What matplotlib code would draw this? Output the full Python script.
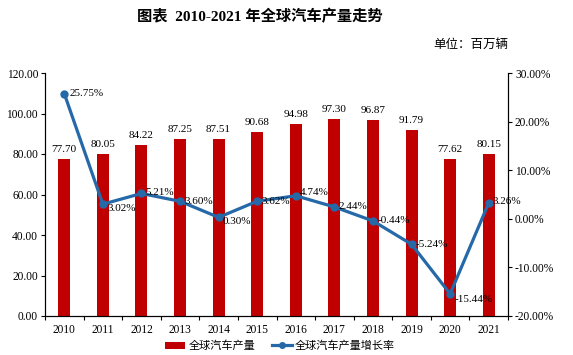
import matplotlib
matplotlib.use('Agg')
import matplotlib.pyplot as plt
import numpy as np
from matplotlib.ticker import FixedLocator

plt.rcParams['font.family'] = ['Liberation Serif', 'Noto Sans CJK SC']

# -------------------------------
# Data
# -------------------------------
years = ['2010', '2011', '2012', '2013', '2014', '2015',
         '2016', '2017', '2018', '2019', '2020', '2021']
production = [77.70, 80.05, 84.22, 87.25, 87.51, 90.68,
              94.98, 97.30, 96.87, 91.79, 77.62, 80.15]
growth = [25.75, 3.02, 5.21, 3.60, 0.30, 3.62,
          4.74, 2.44, -0.44, -5.24, -15.44, 3.26]

bar_color = '#C00000'
line_color = '#2569A8'

fig = plt.figure(figsize=(5.73, 3.55), dpi=100)
ax = fig.add_axes([45 / 573, 1 - 316 / 355, 463 / 573, 243 / 355])
ax2 = ax.twinx()

x = np.arange(len(years))
bars = ax.bar(x, production, width=0.31, color=bar_color, label='全球汽车产量', zorder=2)
line, = ax2.plot(x, growth, color=line_color, lw=2.3, marker='o', ms=5,
                 label='全球汽车产量增长率', zorder=3)

# bar value labels
for xi, v in zip(x, production):
    ax.text(xi, v + 2.5, f'{v:.2f}', ha='center', va='bottom', fontsize=8)

# growth labels (offsets in points)
offsets = [(4, 0), (3, -3), (3, 1), (3, 0), (3, -3), (3, 0),
           (3, 2), (3, 0), (3, 0), (3, 0), (3, -4), (3, 1)]
for xi, v, (dx, dy) in zip(x, growth, offsets):
    ax2.annotate(f'{v:.2f}%', (xi, v), xytext=(dx, dy), textcoords='offset points',
                 ha='left', va='center', fontsize=8, zorder=4)

ax.set_xlim(-0.5, len(years) - 0.5)
ax.set_ylim(0, 120)
ax.set_yticks(np.arange(0, 121, 20))
ax.set_yticklabels([f'{v:.2f}' for v in np.arange(0, 121, 20)], fontsize=8.3)
ax2.set_ylim(-20, 30)
ax2.set_yticks(np.arange(-20, 31, 10))
ax2.set_yticklabels([f'{v:.2f}%' for v in np.arange(-20, 31, 10)], fontsize=8.3)

ax.set_xticks(x)
ax.set_xticklabels(years, fontsize=8.3)
ax.tick_params(axis='x', which='major', length=0, pad=6)
ax.xaxis.set_minor_locator(FixedLocator(np.arange(-0.5, len(years), 1)))
ax.tick_params(axis='x', which='minor', length=3, width=0.8)
ax.tick_params(axis='y', length=3, width=0.8, pad=2)
ax2.tick_params(axis='y', length=3, width=0.8, pad=2)

for a in (ax, ax2):
    a.spines['top'].set_visible(False)
    for s in ('left', 'right', 'bottom'):
        a.spines[s].set_linewidth(0.8)

fig.text(260 / 573, 1 - 17 / 355, '图表  2010-2021 年全球汽车产量走势', ha='center', va='center',
         fontsize=11, fontweight='bold')
fig.text(508 / 573, 1 - 45 / 355, '单位：百万辆', ha='right', va='center', fontsize=9)

fig.legend([bars, line], ['全球汽车产量', '全球汽车产量增长率'], loc='center',
           bbox_to_anchor=(280 / 573, 1 - 346 / 355), ncol=2, frameon=False, fontsize=8,
           handlelength=1.8, columnspacing=1.5, handletextpad=0.3, markerscale=0.8)

fig.savefig('out.png', dpi=100)
